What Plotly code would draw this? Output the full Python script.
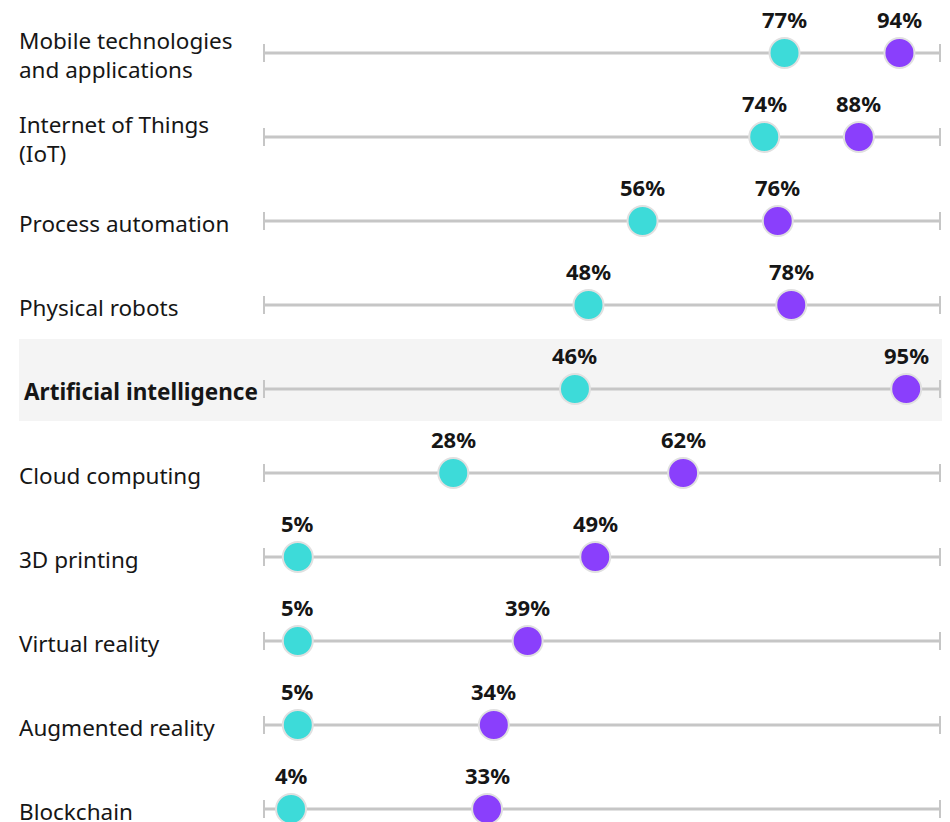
import plotly.graph_objects as go

categories = ["Mobile technologies<br>and applications", "Internet of Things<br>(IoT)",
              "Process automation", "Physical robots", "Artificial intelligence",
              "Cloud computing", "3D printing", "Virtual reality", "Augmented reality",
              "Blockchain"]
series_a = [77, 74, 56, 48, 46, 28, 5, 5, 5, 4]
series_b = [94, 88, 76, 78, 95, 62, 49, 39, 34, 33]
highlight = "Artificial intelligence"

TEAL = "#3ddbd9"
PURPLE = "#8a3ffc"
GRID = "#c6c6c6"
FONT = "Noto Sans"

W, H = 950, 822
OFF = 8  # page body margin
px_per = (940 - 264) / 100
x0 = -(264 - OFF) / px_per
x1 = x0 + W / px_per
y_top = -(53 - OFF) / 84
y_bot = y_top + H / 84

rows = list(range(len(categories)))
fig = go.Figure()

hi = categories.index(highlight)
fig.add_shape(type="rect", xref="paper", yref="y", x0=(19 - OFF) / W, x1=(943 - OFF) / W,
              y0=hi - 50 / 84, y1=hi + 32 / 84, fillcolor="#f4f4f4", line_width=0, layer="below")

lx, ly = [], []
for r in rows:
    lx += [0, 100, None]
    ly += [r, r, None]
fig.add_trace(go.Scatter(x=lx, y=ly, mode="lines", line=dict(color=GRID, width=3),
                         hoverinfo="skip", showlegend=False))
fig.add_trace(go.Scatter(x=[0] * len(rows) + [100] * len(rows), y=rows + rows, mode="markers",
                         marker=dict(symbol="line-ns", size=13, line=dict(color=GRID, width=2)),
                         hoverinfo="skip", showlegend=False))

for vals, col in [(series_a, TEAL), (series_b, PURPLE)]:
    fig.add_trace(go.Scatter(x=vals, y=rows, mode="markers",
                             marker=dict(size=30, color=col, line=dict(color="#e0e0e0", width=2)),
                             showlegend=False))
    for r, v in zip(rows, vals):
        fig.add_annotation(x=v, y=r, xref="x", yref="y", text=f"<b>{v}%</b>", showarrow=False,
                           yshift=34, font=dict(family=FONT, size=22, color="#161616"))

for r, c in zip(rows, categories):
    is_hi = c == highlight
    fig.add_annotation(x=((24 if is_hi else 19) - OFF - 2) / W, y=r, xref="paper", yref="y",
                       text=f"<b>{c}</b>" if is_hi else c, showarrow=False,
                       xanchor="left", align="left", yshift=-2,
                       font=dict(family=FONT, size=22.5, color="#161616"))

fig.update_layout(width=W, height=H, margin=dict(l=0, r=0, t=0, b=0),
                  paper_bgcolor="white", plot_bgcolor="white",
                  xaxis=dict(range=[x0, x1], visible=False, fixedrange=True),
                  yaxis=dict(range=[y_bot, y_top], visible=False, fixedrange=True),
                  font=dict(family=FONT))
fig.write_html("out.html")
